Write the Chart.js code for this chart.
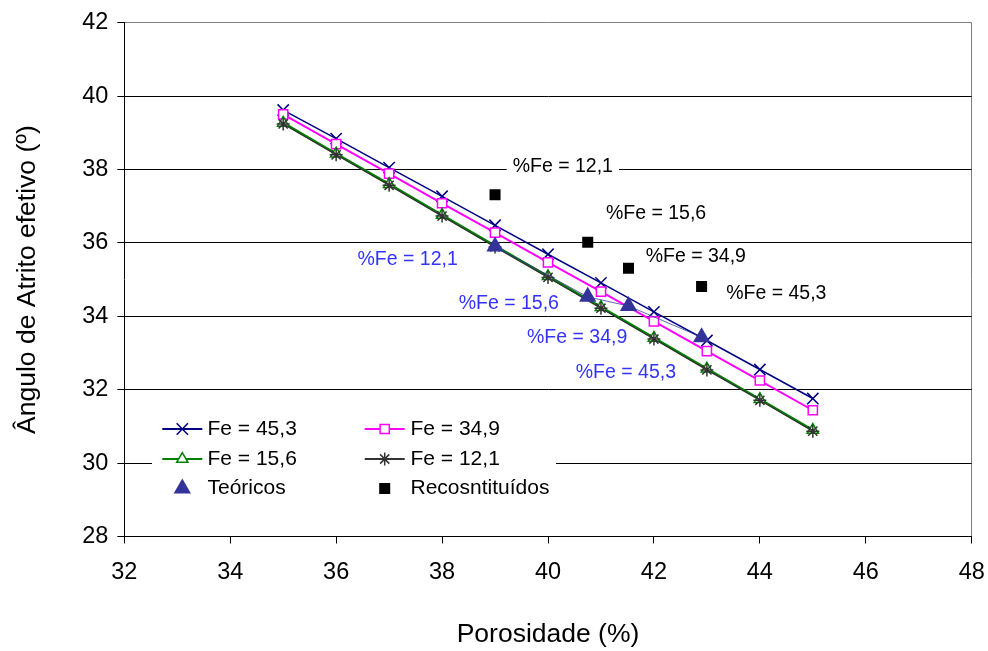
<!DOCTYPE html>
<html>
<head>
<meta charset="utf-8">
<title>Ângulo de Atrito efetivo x Porosidade</title>
<script src="https://cdn.jsdelivr.net/npm/chart.js@4/dist/chart.umd.min.js"></script>
<style>
  html, body { margin: 0; padding: 0; background: #ffffff; }
  #wrap { width: 988px; height: 651px; }
</style>
</head>
<body>
<div id="wrap"><canvas id="chart" width="988" height="651"></canvas></div>
<script>
// Porosidade (%) for the fitted lines
const porosidade = [35, 36, 37, 38, 39, 40, 41, 42, 43, 44, 45];

// Ângulo de atrito efetivo (º) for each iron content
const fe453 = [39.62, 38.84, 38.05, 37.27, 36.48, 35.69, 34.91, 34.12, 33.34, 32.55, 31.76];
const fe349 = [39.50, 38.69, 37.89, 37.08, 36.28, 35.47, 34.67, 33.86, 33.05, 32.25, 31.44];
const fe156 = [39.27, 38.43, 37.60, 36.76, 35.92, 35.09, 34.25, 33.41, 32.57, 31.74, 30.90];
const fe121 = [39.24, 38.40, 37.57, 36.73, 35.89, 35.06, 34.22, 33.38, 32.54, 31.71, 30.87];

// Measured samples (%Fe = 12,1 / 15,6 / 34,9 / 45,3)
const amostraPorosidade = [39.0, 40.75, 41.52, 42.9];
const teoricos = [35.9, 34.53, 34.28, 33.43];
const reconstituidos = [37.31, 36.02, 35.31, 34.81];

// Axis ticks
const xTicks = [32, 34, 36, 38, 40, 42, 44, 46, 48];
const yTicks = [28, 30, 32, 34, 36, 38, 40, 42];

const FONT = "'Liberation Sans', Arial, sans-serif";
const NAVY = '#000080';
const MAGENTA = '#FF00FF';
const GREEN = '#008000';
const DARK = '#333333';
const INDIGO = '#333399';

const pts = (xs, ys) => xs.map((x, i) => ({ x: x, y: ys[i] }));

// Text labels placed in data units
const notes = [
  { text: '%Fe = 12,1', x: 40.28, y: 38.07, color: '#000000', box: true },
  { text: '%Fe = 15,6', x: 42.04, y: 36.79, color: '#000000', box: true },
  { text: '%Fe = 34,9', x: 42.79, y: 35.62, color: '#000000', box: true },
  { text: '%Fe = 45,3', x: 44.31, y: 34.61, color: '#000000', box: true },
  { text: '%Fe = 12,1', x: 37.35, y: 35.54, color: '#3333FF', box: false },
  { text: '%Fe = 15,6', x: 39.26, y: 34.34, color: '#3333FF', box: false },
  { text: '%Fe = 34,9', x: 40.55, y: 33.42, color: '#3333FF', box: false },
  { text: '%Fe = 45,3', x: 41.47, y: 32.47, color: '#3333FF', box: false }
];

const notesPlugin = {
  id: 'notes',
  afterDatasetsDraw(chart) {
    const { ctx, scales } = chart;
    ctx.save();
    ctx.font = '19.5px ' + FONT;
    ctx.textAlign = 'center';
    ctx.textBaseline = 'middle';
    notes.forEach(n => {
      const px = scales.x.getPixelForValue(n.x);
      const py = scales.y.getPixelForValue(n.y);
      if (n.box) {
        const w = ctx.measureText(n.text).width;
        ctx.fillStyle = '#ffffff';
        ctx.fillRect(px - w / 2 - 6, py - 10, w + 12, 20);
      }
      ctx.fillStyle = n.color;
      ctx.fillText(n.text, px, py);
    });
    ctx.restore();
  }
};

// Two-column key drawn inside the plot area
const keyItems = [
  { label: 'Fe = 45,3', line: NAVY, lw: 2, style: 'crossRot', r: 8, fill: NAVY, stroke: NAVY, bw: 1.5, col: 0, row: 0 },
  { label: 'Fe = 34,9', line: MAGENTA, lw: 2, style: 'rect', r: 6.5, fill: '#ffffff', stroke: MAGENTA, bw: 1.5, col: 1, row: 0 },
  { label: 'Fe = 15,6', line: GREEN, lw: 2, style: 'triangle', r: 6.5, fill: '#ffffff', stroke: GREEN, bw: 1.5, col: 0, row: 1 },
  { label: 'Fe = 12,1', line: DARK, lw: 2, style: 'star', r: 6.5, fill: DARK, stroke: DARK, bw: 1.5, col: 1, row: 1 },
  { label: 'Teóricos', line: null, style: 'triangle', r: 10, fill: INDIGO, stroke: INDIGO, bw: 0, col: 0, row: 2 },
  { label: 'Recosntituídos', line: null, style: 'rect', r: 7.8, fill: '#000000', stroke: '#000000', bw: 0, col: 1, row: 2 }
];

const keyPlugin = {
  id: 'key',
  afterDraw(chart) {
    const { ctx } = chart;
    const colX = [182.3, 384.7];
    const textX = [207.5, 410.5];
    const rowY = [429, 459, 488.5];
    ctx.save();
    ctx.fillStyle = '#ffffff';
    ctx.fillRect(152, 412, 404, 92);
    ctx.font = '21px ' + FONT;
    ctx.textBaseline = 'middle';
    ctx.textAlign = 'left';
    keyItems.forEach(it => {
      const cx = colX[it.col];
      const cy = rowY[it.row];
      if (it.line) {
        ctx.strokeStyle = it.line;
        ctx.lineWidth = it.lw;
        ctx.beginPath();
        ctx.moveTo(cx - 20, cy);
        ctx.lineTo(cx + 20, cy);
        ctx.stroke();
      }
      ctx.fillStyle = it.fill;
      ctx.strokeStyle = it.stroke;
      ctx.lineWidth = it.bw;
      Chart.helpers.drawPoint(ctx, { pointStyle: it.style, radius: it.r, rotation: 0, borderWidth: it.bw }, cx, cy);
      ctx.fillStyle = '#000000';
      ctx.fillText(it.label, textX[it.col], cy);
    });
    ctx.restore();
  }
};

new Chart(document.getElementById('chart'), {
  type: 'scatter',
  data: {
    datasets: [
      {
        label: 'Recosntituídos',
        data: pts(amostraPorosidade, reconstituidos),
        showLine: false,
        pointStyle: 'rect',
        pointRadius: 7.8,
        pointBackgroundColor: '#000000',
        pointBorderWidth: 0,
        order: 1
      },
      {
        label: 'Teóricos',
        data: pts(amostraPorosidade, teoricos),
        showLine: true,
        borderColor: INDIGO,
        borderWidth: 0.75,
        pointStyle: 'triangle',
        pointRadius: 10,
        pointBackgroundColor: INDIGO,
        pointBorderWidth: 0,
        order: 2
      },
      {
        label: 'Fe = 12,1',
        data: pts(porosidade, fe121),
        showLine: true,
        borderColor: DARK,
        borderWidth: 1.2,
        pointStyle: 'star',
        pointRadius: 6.5,
        pointBorderColor: DARK,
        pointBorderWidth: 1.5,
        order: 3
      },
      {
        label: 'Fe = 15,6',
        data: pts(porosidade, fe156),
        showLine: true,
        borderColor: GREEN,
        borderWidth: 2.5,
        pointStyle: 'triangle',
        pointRadius: 6.5,
        pointBackgroundColor: '#ffffff',
        pointBorderColor: GREEN,
        pointBorderWidth: 1.5,
        order: 4
      },
      {
        label: 'Fe = 34,9',
        data: pts(porosidade, fe349),
        showLine: true,
        borderColor: MAGENTA,
        borderWidth: 2,
        pointStyle: 'rect',
        pointRadius: 6.5,
        pointBackgroundColor: '#ffffff',
        pointBorderColor: MAGENTA,
        pointBorderWidth: 1.5,
        order: 5
      },
      {
        label: 'Fe = 45,3',
        data: pts(porosidade, fe453),
        showLine: true,
        borderColor: NAVY,
        borderWidth: 1.5,
        pointStyle: 'crossRot',
        pointRadius: 8,
        pointBorderColor: NAVY,
        pointBorderWidth: 1.5,
        order: 6
      }
    ]
  },
  options: {
    responsive: false,
    animation: false,
    devicePixelRatio: 1,
    events: [],
    layout: { padding: { top: 22.7, right: 16.3, left: 0, bottom: 0 } },
    plugins: { legend: { display: false }, tooltip: { enabled: false } },
    scales: {
      x: {
        type: 'linear',
        min: xTicks[0],
        max: xTicks[xTicks.length - 1],
        afterBuildTicks: s => { s.ticks = xTicks.map(v => ({ value: v })); },
        afterFit: s => { s.height = 114.5; s.paddingLeft = 0; s.paddingRight = 0; },
        ticks: { color: '#000000', font: { family: FONT, size: 23.5 }, padding: 15 },
        grid: {
          drawOnChartArea: true,
          color: c => (c.tick && c.tick.value === 48) ? '#808080' : 'rgba(0,0,0,0)',
          tickColor: '#000000',
          tickLength: 7,
          lineWidth: 1
        },
        border: { color: '#000000', width: 1 },
        title: {
          display: true,
          text: 'Porosidade (%)',
          color: '#000000',
          font: { family: FONT, size: 26.5 },
          padding: { top: 0, bottom: 0 }
        }
      },
      y: {
        type: 'linear',
        min: yTicks[0],
        max: yTicks[yTicks.length - 1],
        afterBuildTicks: s => { s.ticks = yTicks.map(v => ({ value: v })); },
        afterFit: s => { s.width = 124.3; s.paddingTop = 0; s.paddingBottom = 0; },
        ticks: { color: '#000000', font: { family: FONT, size: 23.5 }, padding: 9 },
        grid: {
          color: c => (c.tick && c.tick.value === 42) ? '#808080' : '#000000',
          tickColor: '#000000',
          tickLength: 7,
          lineWidth: 1
        },
        border: { color: '#000000', width: 1 },
        title: {
          display: true,
          text: 'Ângulo de Atrito efetivo (º)',
          color: '#000000',
          font: { family: FONT, size: 26.5 },
          padding: { top: 12, bottom: 0 }
        }
      }
    }
  },
  plugins: [notesPlugin, keyPlugin]
});
</script>
</body>
</html>
